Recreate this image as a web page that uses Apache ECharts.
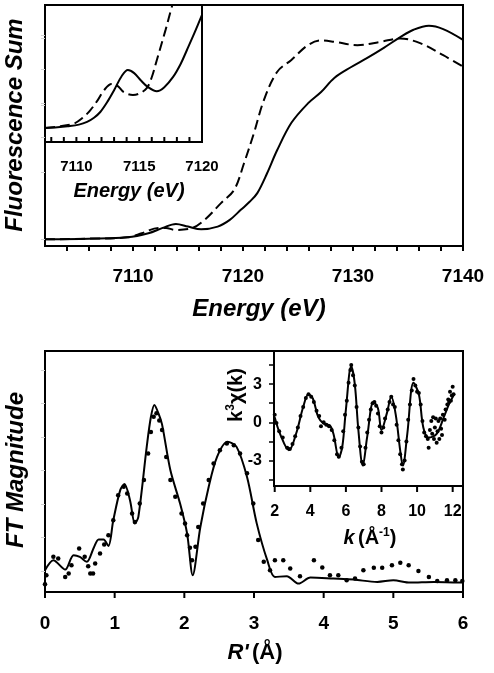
<!DOCTYPE html>
<html><head><meta charset="utf-8">
<script src="https://cdn.jsdelivr.net/npm/echarts@6/dist/echarts.min.js"></script>
<style>html,body{margin:0;padding:0;background:#fff}#c{width:494px;height:673px}</style>
</head><body><div id="c"></div>
<script>
// ---- XANES (top panel), energy in eV, normalized fluorescence ----
const mainSolidE = [7102,7106,7109.5,7111.4,7112.7,7113.9,7115.0,7116.2,7117.7,7118.8,7119.8,7120.6,7121.3,7122.2,7123.1,7124.4,7125.9,7127.1,7128.3,7129.8,7131.3,7132.8,7134.3,7135.5,7136.9,7138.2,7140];
const mainSolidV = [0,0.01,0.03,0.09,0.17,0.23,0.19,0.15,0.19,0.29,0.44,0.56,0.69,0.99,1.33,1.74,2.03,2.20,2.41,2.57,2.71,2.86,3.02,3.13,3.19,3.14,2.98];
const mainDashE = [7102,7106,7109.5,7110.8,7112.3,7113.0,7113.8,7115.4,7116.5,7118,7119.2,7120.1,7121,7121.9,7123.1,7124.4,7125.9,7127.1,7128.3,7130.4,7132.5,7134.3,7136.1,7138.2,7140];
const mainDashV = [0,0.01,0.03,0.09,0.17,0.17,0.14,0.17,0.29,0.54,0.74,1.14,1.59,2.08,2.50,2.68,2.90,2.97,2.95,2.90,2.95,3.00,2.93,2.75,2.58];
// pre-edge inset
const preSolidE = [7107.5,7108.5,7109.3,7110.2,7110.85,7111.4,7111.9,7112.5,7113.0,7113.6,7114.1,7114.6,7115.1,7115.7,7116.4,7117.0,7117.7,7118.3,7118.8,7119.4,7120];
const preSolidV = [0.27,0.29,0.32,0.37,0.45,0.57,0.74,1.06,1.38,1.79,1.97,1.88,1.68,1.47,1.35,1.47,1.77,2.15,2.56,3.06,3.59];
const preDashE = [7107.5,7108.5,7109.8,7110.5,7111.1,7111.7,7112.2,7112.8,7113.3,7113.75,7114.5,7115.0,7115.6,7116.0,7116.4,7117.1,7117.6,7118.0];
const preDashV = [0.27,0.31,0.40,0.57,0.79,1.09,1.38,1.56,1.50,1.33,1.24,1.28,1.44,1.76,2.26,3.15,3.83,4.32];
// ---- EXAFS FT (bottom panel) ----
const ftFitR = [0.00,0.12,0.29,0.41,0.50,0.60,0.70,0.77,0.84,0.91,0.98,1.08,1.14,1.22,1.29,1.34,1.46,1.52,1.57,1.63,1.68,1.80,1.94,2.04,2.12,2.23,2.35,2.47,2.62,2.75,2.90,3.04,3.19,3.30,3.47,3.64,3.81,4.14,4.43,4.77,5.00,5.24,5.58,6.00];
const ftFitV = [0.03,0.33,0.05,0.48,0.43,0.28,0.70,0.95,0.95,0.75,1.52,2.42,2.60,2.12,1.42,1.62,3.71,4.60,4.96,4.70,4.38,3.01,2.01,1.12,-0.12,1.32,2.52,3.41,3.86,3.71,2.81,1.42,0.33,-0.17,-0.15,-0.37,-0.19,-0.22,-0.25,-0.32,-0.27,-0.34,-0.32,-0.34];
const ftDataR = [0.00,0.02,0.12,0.19,0.29,0.34,0.38,0.49,0.57,0.62,0.65,0.69,0.72,0.79,0.85,0.91,0.98,1.05,1.13,1.18,1.25,1.29,1.36,1.42,1.48,1.52,1.56,1.60,1.64,1.68,1.74,1.80,1.87,1.96,2.01,2.04,2.08,2.11,2.16,2.20,2.27,2.35,2.42,2.51,2.61,2.71,2.80,2.90,2.99,3.06,3.14,3.23,3.30,3.42,3.52,3.66,3.86,3.98,4.09,4.21,4.33,4.45,4.57,4.72,4.84,4.98,5.10,5.22,5.36,5.51,5.63,5.77,5.89,5.99];
const ftDataV = [-0.39,-0.12,0.43,0.38,-0.17,-0.07,0.18,0.68,0.43,0.15,-0.07,-0.07,0.23,0.53,0.80,1.07,1.52,2.27,2.52,2.32,1.72,1.47,2.02,2.72,3.51,4.15,4.61,4.71,4.50,4.21,3.41,2.72,2.22,1.72,1.42,1.07,0.70,0.33,0.73,1.32,2.02,2.72,3.21,3.61,3.81,3.76,3.51,2.92,2.02,0.93,0.28,0.03,0.33,0.33,0.08,-0.15,0.33,0.11,-0.12,-0.12,-0.27,-0.22,0.03,0.10,0.10,0.18,0.25,0.18,0.01,-0.17,-0.29,-0.27,-0.27,-0.29];
// ---- k^3 chi(k) inset ----
const kFitK = [2.0,2.3,2.8,3.2,3.6,3.9,4.15,4.45,4.75,5.1,5.3,5.6,5.8,6.0,6.3,6.5,6.7,6.95,7.2,7.55,7.8,8.0,8.3,8.55,8.8,9.05,9.2,9.45,9.8,10.1,10.35,10.65,11.1,11.5,11.8,12.05];
const kFitV = [0.4,-0.9,-2.2,-0.9,1.2,2.2,1.85,0.4,-0.1,-0.25,-0.9,-2.75,-1.9,1.0,4.4,3.0,-0.6,-3.4,-1.1,1.6,1.1,-0.6,0.7,2.0,0.6,-2.2,-3.4,-0.9,3.1,2.2,-0.4,-1.2,-0.9,0.4,1.45,2.1];
const kDataK = [2.0,2.1,2.25,2.45,2.7,2.85,3.0,3.15,3.3,3.45,3.6,3.75,3.9,4.05,4.2,4.35,4.5,4.6,4.75,4.9,5.05,5.2,5.35,5.5,5.6,5.75,5.85,5.95,6.05,6.15,6.25,6.3,6.4,6.5,6.6,6.7,6.8,6.9,7.0,7.1,7.2,7.3,7.4,7.5,7.6,7.7,7.8,7.9,8.0,8.1,8.2,8.35,8.45,8.55,8.65,8.75,8.85,8.95,9.05,9.15,9.2,9.3,9.4,9.5,9.6,9.7,9.8,9.9,10.0,10.1,10.2,10.3,10.4,10.5,10.6,10.65,10.72,10.8,10.85,10.9,10.95,11.0,11.05,11.1,11.15,11.2,11.25,11.3,11.35,11.4,11.45,11.55,11.6,11.7,11.75,11.8,11.85,11.9,11.95,12.0,12.05];
const kDataV = [0.6,-0.05,-0.7,-1.2,-2.0,-2.1,-1.7,-1.1,-0.4,0.5,1.2,1.9,2.2,2.0,1.6,0.9,0.5,-0.3,0.0,-0.2,-0.3,-0.6,-1.4,-2.5,-2.7,-2.0,-0.7,0.6,1.7,3.1,4.1,4.5,3.7,2.9,1.2,-0.4,-1.9,-3.1,-3.3,-2.0,-0.8,0.2,1.0,1.5,1.6,1.3,0.7,-0.3,-0.8,-0.4,0.3,1.0,1.6,2.0,1.4,1.2,-0.2,-1.4,-2.5,-3.3,-3.7,-3.0,-1.5,0.2,1.4,2.5,3.4,2.9,2.4,2.3,1.4,0.1,-0.8,-1.1,-1.3,-2.0,-0.6,0.1,-0.9,0.4,-1.3,-0.4,0.3,-1.6,-0.7,0.1,-1.3,0.3,-0.5,-1.0,0.6,0.2,1.0,1.4,1.8,1.6,2.4,1.7,2.1,2.8,2.2];
// ---- tick labels / tick positions ----
const topTickLabels = [7110,7120,7130,7140];
const topTicks = [7104,7106,7108,7110,7112,7114,7116,7118,7120,7122,7124,7126,7128,7130,7132,7134,7136,7138,7140];
const preTickLabels = [7110,7115,7120];
const preTicks = [7108,7109,7110,7111,7112,7113,7114,7115,7116,7117,7118,7119,7120];
const ftTickLabels = [0,1,2,3,4,5,6];
const kTickLabels = [2,4,6,8,10,12];
const kYTickLabels = [-3,0,3];
const kYTicks = [-4.5,-3,-1.5,0,1.5,3,4.5];

// Each y axis starts at 0 (bottom edge of its panel); the panel's lower
// limit is expressed as a shift of the value scale.
const SHIFT = {top: 0.1, pre: 0.14, ft: 0.62, k: 5.0};
const zip = (a, b, s) => a.map((v, i) => [v, b[i] + s]);
const sh = (list, s) => list.map(v => +(v + s).toFixed(3));
const FF = '"Liberation Sans", Arial, sans-serif';
const xLine = () => ({show: true, onZero: false, lineStyle: {color: '#000', width: 2}});
const xLabel = (size, margin, list, s) => ({show: true, customValues: list, margin: margin, color: '#000', fontSize: size, fontWeight: 'bold', fontFamily: FF,
  formatter: v => String(Math.round((v - (s || 0)) * 100) / 100)});
const faintY = (vals) => ({type: 'value', splitLine: {show: false}, axisLine: {show: true, lineStyle: {color: '#000', width: 2}}, axisLabel: {show: false},
  axisTick: {show: true, customValues: vals, length: 4, lineStyle: {color: '#d0d0d0', width: 1}}});
// x-axis tick marks drawn as short rectangles sitting on the bottom axis (value 0 of each y scale)
const tickMarks = (ax, list, len, up) => ({type: 'scatter', xAxisIndex: ax, yAxisIndex: ax, silent: true, clip: false, z: 5,
  data: list.map(t => [t, 0]), symbol: 'rect', symbolSize: [2, len], symbolOffset: [0, up ? -len / 2 : len / 2],
  itemStyle: {color: '#000', opacity: 1}});

const chart = echarts.init(document.getElementById('c'));
const option = {
  animation: false,
  backgroundColor: '#fff',
  grid: [
    {left: 45, top: 5, width: 418, height: 241, show: true, borderColor: '#000', borderWidth: 2},
    {left: 45, top: 5, width: 157, height: 137, show: true, borderColor: '#000', borderWidth: 2, backgroundColor: '#fff'},
    {left: 45, top: 351, width: 418, height: 241, show: true, borderColor: '#000', borderWidth: 2},
    {left: 274, top: 351, width: 189, height: 135, show: true, borderColor: '#000', borderWidth: 2, backgroundColor: '#fff'}
  ],
  xAxis: [
    {gridIndex: 0, type: 'value', position: 'bottom', min: 7102, max: 7140, interval: 2, splitLine: {show: false}, axisLine: xLine(),
      axisTick: {show: false}, axisLabel: xLabel(19, 21, topTickLabels)},
    {gridIndex: 1, type: 'value', position: 'bottom', min: 7107.5, max: 7120, splitLine: {show: false}, axisLine: xLine(),
      axisTick: {show: false}, axisLabel: xLabel(15, 17, preTickLabels)},
    {gridIndex: 2, type: 'value', position: 'bottom', min: 0, max: 6, interval: 1, splitLine: {show: false}, axisLine: xLine(),
      axisTick: {show: false}, axisLabel: xLabel(19, 22, ftTickLabels)},
    {gridIndex: 3, type: 'value', position: 'bottom', min: 1.96, max: 12.58, splitLine: {show: false}, axisLine: xLine(),
      axisTick: {show: false}, axisLabel: xLabel(16, 18, kTickLabels)}
  ],
  yAxis: [
    Object.assign({gridIndex: 0, min: 0, max: 3.6}, faintY(sh([0,1,2,3], SHIFT.top))),
    Object.assign({gridIndex: 1, min: 0, max: 4.02}, faintY(sh([0,1,2,3], SHIFT.pre))),
    Object.assign({gridIndex: 2, min: 0, max: 7.19}, faintY(sh([0,1,2,3,4,5,6], SHIFT.ft))),
    {gridIndex: 3, type: 'value', min: 0, max: 10.6, splitLine: {show: false}, axisLine: {show: true, lineStyle: {color: '#000', width: 2}},
      axisTick: {show: true, customValues: sh(kYTicks, SHIFT.k), length: 5, lineStyle: {color: '#000', width: 1.5}},
      axisLabel: xLabel(16, 12, sh(kYTickLabels, SHIFT.k), SHIFT.k)}
  ],
  series: [
    {type: 'line', xAxisIndex: 0, yAxisIndex: 0, data: zip(mainSolidE, mainSolidV, SHIFT.top), smooth: 0.35, showSymbol: false, lineStyle: {color: '#000', width: 2}},
    {type: 'line', xAxisIndex: 0, yAxisIndex: 0, data: zip(mainDashE, mainDashV, SHIFT.top), smooth: 0.35, showSymbol: false, lineStyle: {color: '#000', width: 2, type: [10, 5]}},
    {type: 'line', xAxisIndex: 1, yAxisIndex: 1, data: zip(preSolidE, preSolidV, SHIFT.pre), smooth: 0.35, showSymbol: false, lineStyle: {color: '#000', width: 2}},
    {type: 'line', xAxisIndex: 1, yAxisIndex: 1, data: zip(preDashE, preDashV, SHIFT.pre), smooth: 0.35, showSymbol: false, lineStyle: {color: '#000', width: 2, type: [10, 5]}},
    {type: 'scatter', xAxisIndex: 2, yAxisIndex: 2, data: zip(ftDataR, ftDataV, SHIFT.ft), symbolSize: 4.5, itemStyle: {color: '#000', opacity: 1}},
    {type: 'line', xAxisIndex: 2, yAxisIndex: 2, data: zip(ftFitR, ftFitV, SHIFT.ft), smooth: 0.3, showSymbol: false, lineStyle: {color: '#000', width: 2}},
    {type: 'scatter', xAxisIndex: 3, yAxisIndex: 3, data: zip(kDataK, kDataV, SHIFT.k), symbolSize: 4, itemStyle: {color: '#000', opacity: 1}},
    {type: 'line', xAxisIndex: 3, yAxisIndex: 3, data: zip(kFitK, kFitV, SHIFT.k), smooth: 0.35, showSymbol: false, lineStyle: {color: '#000', width: 2}},
    tickMarks(0, topTicks, 5, false),
    tickMarks(1, preTicks, 5, true),
    tickMarks(2, ftTickLabels, 6, false),
    tickMarks(3, kTickLabels, 6, false)
  ],
  graphic: [
    {type: 'text', x: 15, y: 125, rotation: Math.PI / 2, style: {text: 'Fluorescence Sum', fontSize: 24, fontWeight: 'bold', fontStyle: 'italic', fontFamily: FF, fill: '#000', align: 'center', verticalAlign: 'middle'}},
    {type: 'text', x: 259, y: 309, style: {text: 'Energy (eV)', fontSize: 24, fontWeight: 'bold', fontStyle: 'italic', fontFamily: FF, fill: '#000', align: 'center', verticalAlign: 'middle'}},
    {type: 'text', x: 129, y: 191, style: {text: 'Energy (eV)', fontSize: 20, fontWeight: 'bold', fontStyle: 'italic', fontFamily: FF, fill: '#000', align: 'center', verticalAlign: 'middle'}},
    {type: 'text', x: 16, y: 470, rotation: Math.PI / 2, style: {text: 'FT Magnitude', fontSize: 24, fontWeight: 'bold', fontStyle: 'italic', fontFamily: FF, fill: '#000', align: 'center', verticalAlign: 'middle'}},
    {type: 'text', x: 255, y: 653, style: {text: "{i|R'} {n|(Å)}", align: 'center', verticalAlign: 'middle', fill: '#000',
      rich: {i: {fontSize: 22, fontWeight: 'bold', fontStyle: 'italic', fontFamily: FF, fill: '#000'}, n: {fontSize: 22, fontWeight: 'bold', fontFamily: FF, fill: '#000'}}}},
    {type: 'text', x: 370, y: 538, style: {text: '{i|k} {n|(Å}{s|-1}{n|)}', align: 'center', verticalAlign: 'middle', fill: '#000',
      rich: {i: {fontSize: 20, fontWeight: 'bold', fontStyle: 'italic', fontFamily: FF, fill: '#000'}, n: {fontSize: 20, fontWeight: 'bold', fontFamily: FF, fill: '#000'},
        s: {fontSize: 12, fontWeight: 'bold', fontFamily: FF, fill: '#000', padding: [0, 0, 10, 0]}}}},
    {type: 'text', x: 236, y: 395, rotation: Math.PI / 2, style: {text: '{n|k}{s|3}{n|χ(k)}', align: 'center', verticalAlign: 'middle', fill: '#000',
      rich: {n: {fontSize: 20, fontWeight: 'bold', fontFamily: FF, fill: '#000'}, s: {fontSize: 12, fontWeight: 'bold', fontFamily: FF, fill: '#000', padding: [0, 0, 10, 0]}}}}
  ]
};
chart.setOption(option);
</script>
</body></html>
